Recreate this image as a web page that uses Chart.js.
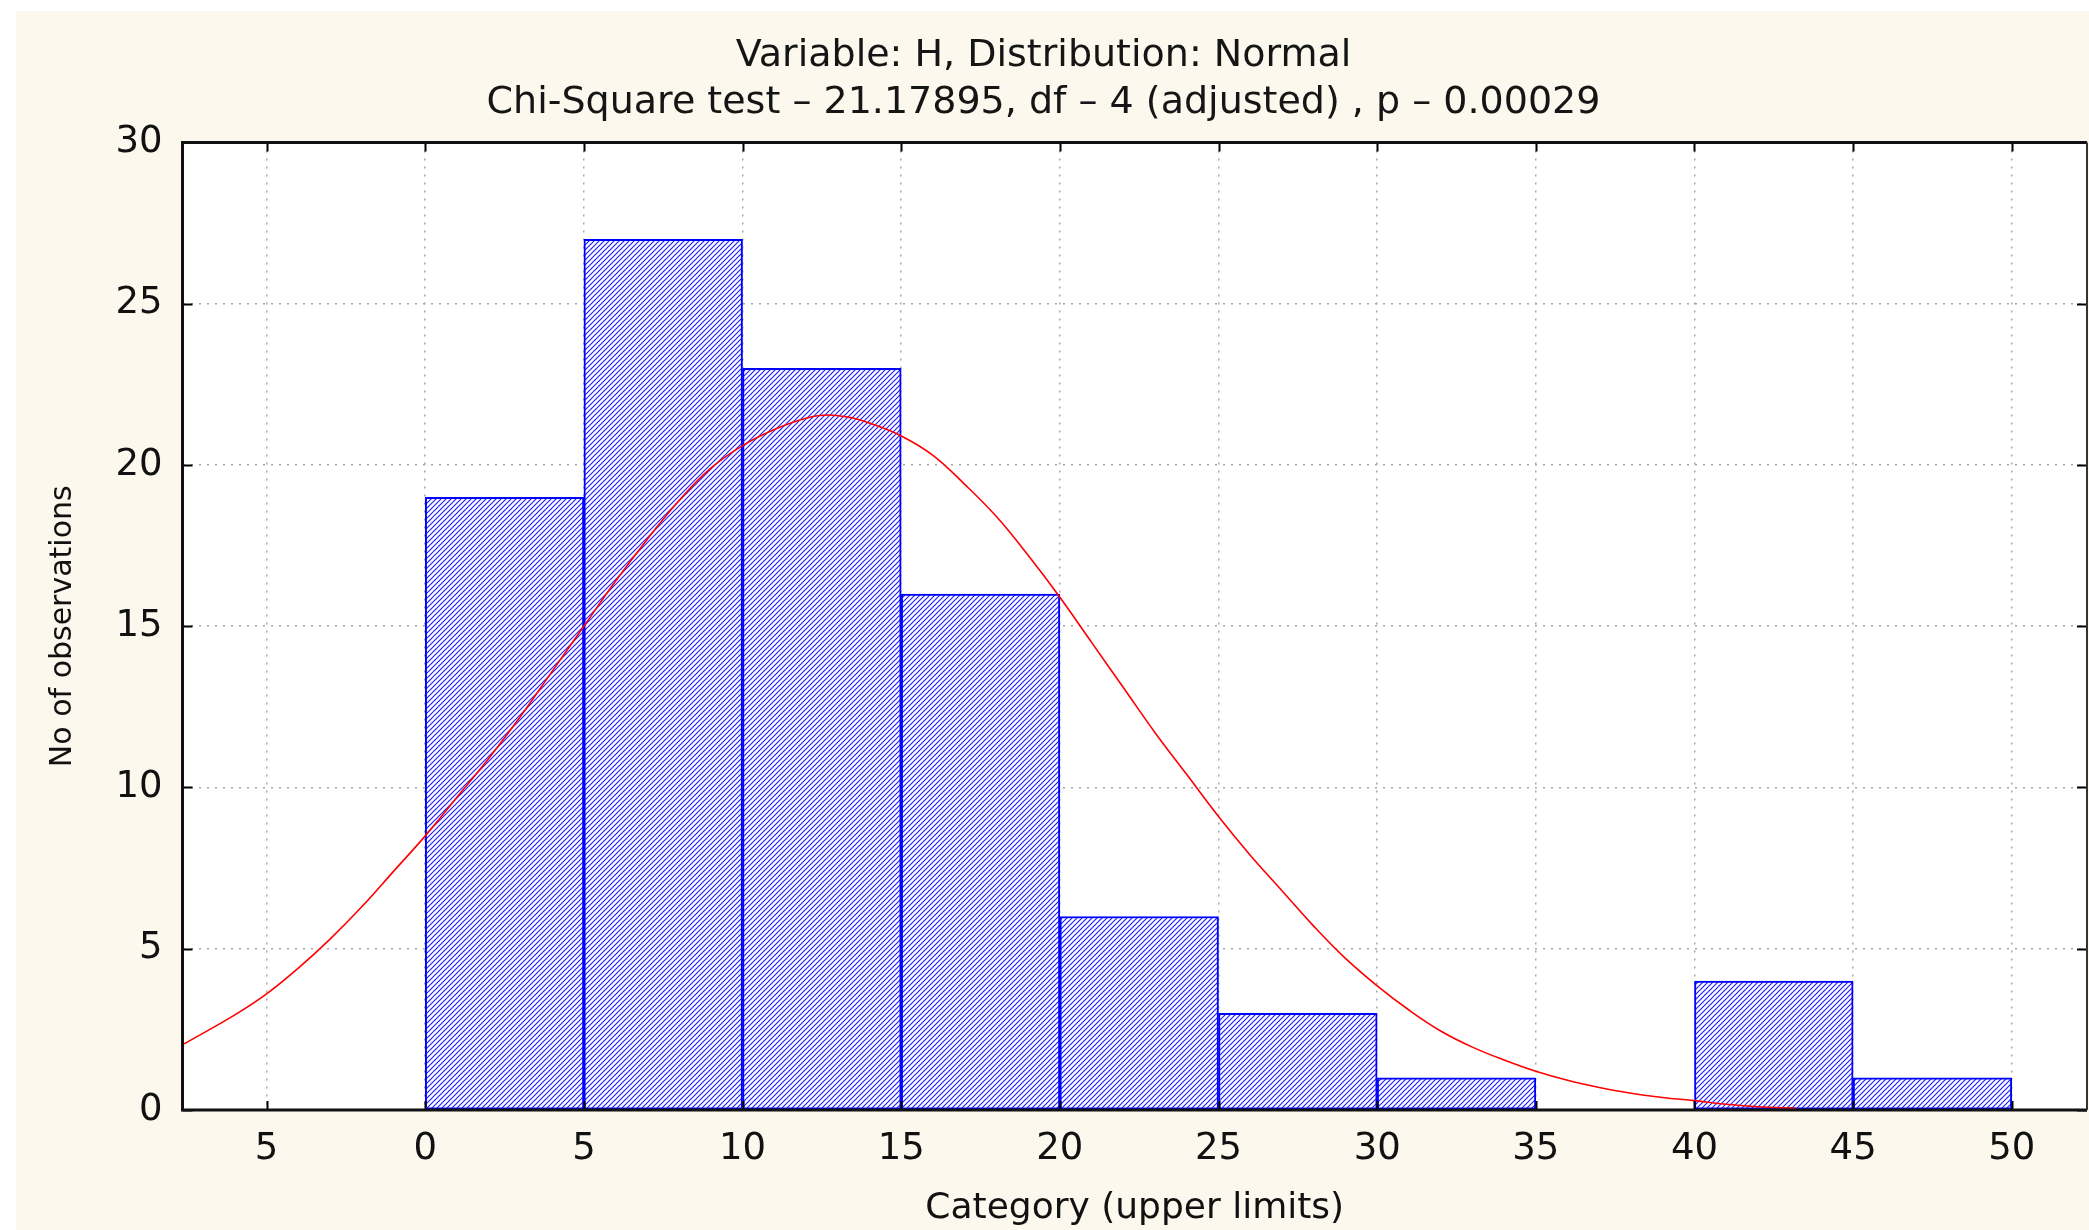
<!DOCTYPE html>
<html>
<head>
<meta charset="utf-8">
<title>Variable: H, Distribution: Normal</title>
<script src="https://cdn.jsdelivr.net/npm/chart.js@4.4.1/dist/chart.umd.min.js"></script>
<style>
  html, body { margin: 0; padding: 0; background: #fff; overflow: hidden; }
  #panel { position: absolute; left: 16px; top: 11px; right: 0; bottom: 0; background: #fdf8ed; }
  #wrap { position: absolute; left: 0; top: 0; width: 2089px; height: 1230px; }
</style>
</head>
<body>
<div id="panel"></div>
<div id="wrap"><canvas id="histo" width="2089" height="1230"></canvas></div>
<script>
// histogram: upper limit of each class and number of observations
const binUpper = [5, 10, 15, 20, 25, 30, 35, 40, 45, 50];
const binCounts = [19, 27, 23, 16, 6, 3, 1, 0, 4, 1];
const binWidth = 5;

// fitted normal curve
const curveX = [-7.6, -6, -5, -4, -3, -2, -1, 0, 1, 2, 3, 4, 5, 6, 7, 8, 9, 10, 11, 12, 12.7, 13.5, 14, 15, 16, 17, 18, 19, 20,
  21, 22, 23, 24, 25, 26, 27, 28, 29, 30, 31, 32, 33, 34, 35, 36, 37, 38, 39, 40, 41, 42, 43.2];
const curveY = [2.05, 2.95, 3.6, 4.4, 5.3, 6.3, 7.4, 8.5, 9.7, 10.9, 12.2, 13.6, 15.0, 16.4, 17.7, 18.9, 19.9, 20.6, 21.1, 21.45, 21.55, 21.45, 21.3, 20.9, 20.3, 19.4, 18.4, 17.2, 15.9,
  14.5, 13.1, 11.7, 10.4, 9.1, 7.9, 6.8, 5.7, 4.7, 3.85, 3.1, 2.45, 1.95, 1.55, 1.2, 0.92, 0.7, 0.52, 0.39, 0.29, 0.18, 0.1, 0.05];

// axis ticks (the minus sign of -5 is missing in the original)
const xTickValues = [-5, 0, 5, 10, 15, 20, 25, 30, 35, 40, 45, 50];
const xTickLabels = ['5', '0', '5', '10', '15', '20', '25', '30', '35', '40', '45', '50'];
const yTickValues = [0, 5, 10, 15, 20, 25, 30];

const FONT = 'DejaVu Sans';

// blue diagonal hatch used by the bars
function makeHatch() {
  const c = document.createElement('canvas');
  c.width = 5; c.height = 5;
  const g = c.getContext('2d');
  g.fillStyle = '#fff';
  g.fillRect(0, 0, 5, 5);
  g.strokeStyle = '#1f1fff';
  g.lineWidth = 1.2;
  g.beginPath();
  g.moveTo(0, 5); g.lineTo(5, 0);
  g.moveTo(-1, 1); g.lineTo(1, -1);
  g.moveTo(4, 6); g.lineTo(6, 4);
  g.stroke();
  return g.createPattern(c, 'repeat');
}

// white plot area, black frame and the little inner tick marks
const framePlugin = {
  id: 'frame',
  beforeDraw(chart) {
    const { ctx, chartArea: a } = chart;
    ctx.save();
    ctx.fillStyle = '#fff';
    ctx.fillRect(a.left, a.top, a.right - a.left, a.bottom - a.top);
    ctx.restore();
  },
  afterDatasetsDraw(chart) {
    const { ctx, chartArea: a, scales } = chart;
    const x = scales.x, y = scales.y;
    ctx.save();
    ctx.strokeStyle = '#000';
    ctx.lineWidth = 2;
    ctx.beginPath();
    x.ticks.forEach(t => {
      const px = Math.round(x.getPixelForValue(t.value)) + 0.5;
      ctx.moveTo(px, a.bottom); ctx.lineTo(px, a.bottom - 9);
      ctx.moveTo(px, a.top); ctx.lineTo(px, a.top + 9);
    });
    y.ticks.forEach(t => {
      const py = Math.round(y.getPixelForValue(t.value)) + 0.5;
      ctx.moveTo(a.left, py); ctx.lineTo(a.left + 10, py);
      ctx.moveTo(a.right, py); ctx.lineTo(a.right - 10, py);
    });
    ctx.stroke();

    ctx.lineWidth = 3;
    ctx.strokeStyle = '#111';
    ctx.beginPath();
    ctx.moveTo(a.right, a.top); ctx.lineTo(a.left, a.top);
    ctx.lineTo(a.left, a.bottom); ctx.lineTo(a.right, a.bottom);
    ctx.stroke();
    ctx.lineWidth = 2;
    ctx.strokeStyle = '#333';
    ctx.beginPath();
    ctx.moveTo(a.right, a.top); ctx.lineTo(a.right, a.bottom);
    ctx.stroke();
    ctx.restore();
  }
};

const ctx = document.getElementById('histo').getContext('2d');

new Chart(ctx, {
  type: 'bar',
  data: {
    datasets: [
      {
        type: 'line',
        label: 'Normal',
        data: curveX.map((v, i) => ({ x: v, y: curveY[i] })),
        borderColor: '#ff0000',
        borderWidth: 1.6,
        pointRadius: 0,
        fill: false,
        tension: 0.4,
        order: 0
      },
      {
        label: 'H',
        data: binUpper.map((u, i) => ({ x: u - binWidth / 2, y: binCounts[i] })),
        backgroundColor: makeHatch(),
        borderColor: '#0000ff',
        borderWidth: 2,
        borderSkipped: false,
        barPercentage: 1,
        categoryPercentage: 1,
        grouped: false,
        order: 1
      }
    ]
  },
  options: {
    responsive: false,
    animation: false,
    layout: { padding: { left: 0, top: 0, right: 2, bottom: 0 } },
    plugins: {
      legend: { display: false },
      tooltip: { enabled: false },
      title: {
        display: true,
        text: ['Variable: H, Distribution: Normal',
               'Chi-Square test \u2013 21.17895, df \u2013 4 (adjusted) , p \u2013 0.00029'],
        color: '#151515',
        font: { family: FONT, size: 38, weight: 'normal', lineHeight: 1.23 },
        padding: { top: 33, bottom: 16 }
      }
    },
    scales: {
      x: {
        type: 'linear',
        min: -7.65,
        max: 52.37,
        offset: false,
        afterBuildTicks: s => { s.ticks = xTickValues.map(v => ({ value: v })); },
        afterFit: s => { s.height = 120; },
        ticks: {
          color: '#111',
          padding: 17,
          maxRotation: 0,
          font: { family: FONT, size: 37 },
          callback: (v, i) => xTickLabels[i]
        },
        grid: { color: '#a6a6a6', lineWidth: 1.5, drawTicks: false, offset: false },
        border: { display: false, dash: [2, 6] },
        title: {
          display: true,
          text: 'Category (upper limits)',
          color: '#111',
          font: { family: FONT, size: 36 },
          padding: { top: 0, bottom: 0 }
        }
      },
      y: {
        min: 0,
        max: 30,
        afterBuildTicks: s => { s.ticks = yTickValues.map(v => ({ value: v })); },
        afterFit: s => { s.width = 182.5; },
        ticks: {
          color: '#111',
          padding: 20,
          font: { family: FONT, size: 37 }
        },
        grid: { color: '#a6a6a6', lineWidth: 1.5, drawTicks: false },
        border: { display: false, dash: [2, 6] },
        title: {
          display: true,
          text: 'No of observations',
          color: '#111',
          font: { family: FONT, size: 30 },
          padding: { top: 45, bottom: 0 }
        }
      }
    }
  },
  plugins: [framePlugin]
});
</script>
</body>
</html>
